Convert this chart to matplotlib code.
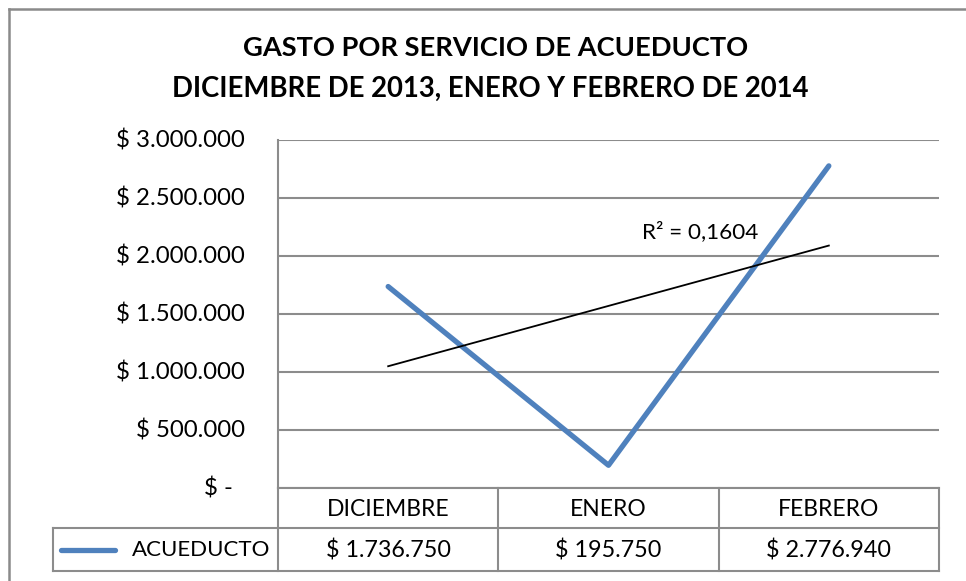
import numpy as np
import matplotlib
matplotlib.use("Agg")
import matplotlib.pyplot as plt
from matplotlib.lines import Line2D

# ---- data ----
categories = ["DICIEMBRE", "ENERO", "FEBRERO"]
values = [1736750, 195750, 2776940]
value_labels = ["$ 1.736.750", "$ 195.750", "$ 2.776.940"]
series_name = "ACUEDUCTO"
title_lines = ["GASTO POR SERVICIO DE ACUEDUCTO", "DICIEMBRE DE 2013, ENERO Y FEBRERO DE 2014"]
yticks = [0, 500000, 1000000, 1500000, 2000000, 2500000, 3000000]
ytick_labels = ["$ -", "$ 500.000", "$ 1.000.000", "$ 1.500.000", "$ 2.000.000", "$ 2.500.000", "$ 3.000.000"]
r2_label = "R² = 0,1604"

FONT = "Lato"
plt.rcParams['font.family'] = [FONT, 'DejaVu Sans']

W, H = 966, 581
fig = plt.figure(figsize=(W / 100, H / 100), dpi=100)

def fx(x):
    return x / W

def fy(y):
    return 1 - y / H

GRID = "#8c8c8c"
BLUE = "#4F81BD"

# plot area
L, R, T, B = 278, 939, 140, 488
ax = fig.add_axes([fx(L), fy(B), fx(R) - fx(L), fy(T) - fy(B)])
x = np.arange(len(categories))
ax.set_xlim(-0.5, len(categories) - 0.5)
ax.set_ylim(0, 3000000)
ax.set_yticks(yticks)
ax.set_yticklabels([])
ax.set_xticks([])
ax.tick_params(length=0)
for s in ["top", "right", "bottom"]:
    ax.spines[s].set_visible(False)
ax.spines["left"].set_color(GRID)
ax.spines["left"].set_linewidth(1.5)
ax.grid(axis="y", color=GRID, linewidth=1.5)
ax.set_axisbelow(True)

ax.plot(x, values, color=BLUE, linewidth=3.8, solid_capstyle="round", zorder=3)

# linear trendline
xs = x + 1
coef = np.polyfit(xs, values, 1)
trend = np.polyval(coef, xs)
ax.plot(x, trend, color="black", linewidth=1.3, zorder=4)
ax.text(1.15, 2210000, r2_label, fontsize=16.2, ha="left", va="center", zorder=5)

# y tick labels
for v, lab in zip(yticks, ytick_labels):
    ypix = B - (B - T) * v / 3000000
    xr = 245 if v != 0 else 233
    fig.text(fx(xr), fy(ypix + 1), lab, ha="right", va="center", fontsize=17.3)

# titles
fig.text(fx(496), fy(48), title_lines[0], ha="center", va="center", fontsize=19.6, fontweight="bold")
fig.text(fx(490), fy(89), title_lines[1], ha="center", va="center", fontsize=19.8, fontweight="bold")

# data table
R1T, R1B, R2B = 488, 528, 571
LEG_L = 53
col_w = (R - L) / len(categories)
lw = 1.5

def hline(y, x0, x1):
    fig.add_artist(Line2D([fx(x0), fx(x1)], [fy(y), fy(y)], color=GRID, linewidth=lw))

def vline(xp, y0, y1):
    fig.add_artist(Line2D([fx(xp), fx(xp)], [fy(y0), fy(y1)], color=GRID, linewidth=lw))

hline(R1T, L, R)
hline(R1B, LEG_L, R)
hline(R2B, LEG_L, R)
vline(LEG_L, R1B, R2B)
for i in range(len(categories) + 1):
    vline(L + i * col_w, R1T, R2B)

for i, (c, vl) in enumerate(zip(categories, value_labels)):
    cx = L + (i + 0.5) * col_w
    fig.text(fx(cx), fy((R1T + R1B) / 2 + 1), c, ha="center", va="center", fontsize=16.5)
    fig.text(fx(cx), fy((R1B + R2B) / 2 + 1), vl, ha="center", va="center", fontsize=16.8)

# legend key
ly = (R1B + R2B) / 2
fig.add_artist(Line2D([fx(61), fx(115)], [fy(ly), fy(ly)], color=BLUE, linewidth=3.8, solid_capstyle="round"))
fig.text(fx(132), fy(ly + 1), series_name, ha="left", va="center", fontsize=16)

# outer chart border (top and left visible)
fig.add_artist(Line2D([fx(9), fx(W + 5)], [fy(9), fy(9)], color="#8a8a8a", linewidth=1.8))
fig.add_artist(Line2D([fx(9), fx(9)], [fy(9), fy(H + 5)], color="#8a8a8a", linewidth=1.8))

fig.savefig("out.png", dpi=100, facecolor="white")
